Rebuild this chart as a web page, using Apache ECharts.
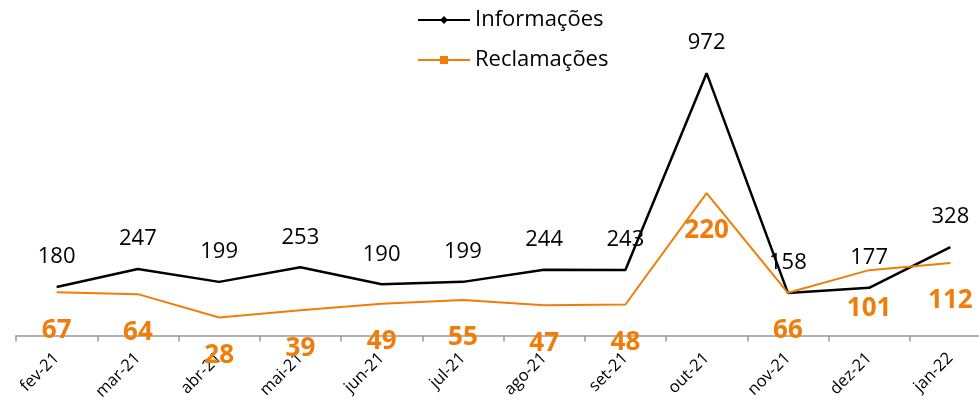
<!DOCTYPE html>
<html>
<head>
<meta charset="utf-8">
<script src="https://cdn.jsdelivr.net/npm/echarts@6/dist/echarts.min.js"></script>
<style>
  html, body { margin: 0; padding: 0; background: #fff; }
  #chart { width: 979px; height: 405px; }
</style>
</head>
<body>
<div id="chart"></div>
<script>
const months = ['fev-21', 'mar-21', 'abr-21', 'mai-21', 'jun-21', 'jul-21', 'ago-21', 'set-21', 'out-21', 'nov-21', 'dez-21', 'jan-22']
const informacoes = [180, 247, 199, 253, 190, 199, 244, 243, 972, 158, 177, 328]
const reclamacoes = [67, 64, 28, 39, 49, 55, 47, 48, 220, 66, 101, 112]

const font = '"Open Sans", Lato, sans-serif'
const orange = '#F07D0A'

const chart = echarts.init(document.getElementById('chart'))

chart.setOption({
  animation: false,
  textStyle: { fontFamily: font },
  legend: {
    orient: 'vertical',
    left: 412,
    top: 4,
    itemWidth: 52,
    itemHeight: 10,
    itemGap: 18,
    textStyle: { fontSize: 22, color: '#000', fontFamily: font },
    data: ['Informações', 'Reclamações'],
  },
  grid: {
    left: 16,
    right: -12,
    top: 11.6,
    bottom: 69.4,
    outerBoundsMode: 'none',
    containLabel: false,
  },
  xAxis: {
    type: 'category',
    data: months,
    axisLine: { lineStyle: { color: '#999', width: 1.5 } },
    axisTick: { show: true, length: 6, lineStyle: { color: '#999', width: 1.5 } },
    axisLabel: { rotate: 45, fontSize: 16.5, color: '#000', margin: 20, fontFamily: font },
  },
  yAxis: [
    { type: 'value', min: 0, max: 1200, show: false, splitLine: { show: false } },
    { type: 'value', min: 0, max: 500, show: false, splitLine: { show: false } },
  ],
  series: [
    {
      name: 'Informações',
      type: 'line',
      yAxisIndex: 0,
      data: informacoes,
      symbol: 'diamond',
      symbolSize: 0.01,
      showSymbol: true,
      lineStyle: { color: '#000', width: 2.5 },
      itemStyle: { color: '#000' },
      label: {
        show: true,
        position: 'top',
        distance: 19,
        fontSize: 22,
        color: '#000',
        fontFamily: font,
      },
    },
    {
      name: 'Reclamações',
      type: 'line',
      yAxisIndex: 1,
      data: reclamacoes,
      symbol: 'rect',
      symbolSize: 0.01,
      showSymbol: true,
      lineStyle: { color: orange, width: 2 },
      itemStyle: { color: orange },
      label: {
        show: true,
        position: 'bottom',
        distance: 25,
        fontSize: 26,
        fontWeight: 'bold',
        color: orange,
        fontFamily: font,
      },
    },
  ],
})
</script>
</body>
</html>
